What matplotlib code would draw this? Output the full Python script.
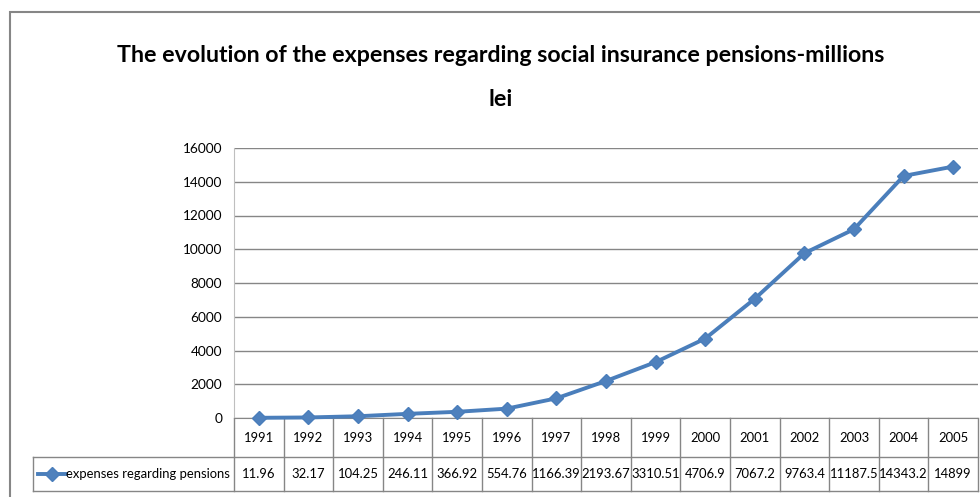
import matplotlib
matplotlib.use('Agg')
import matplotlib.pyplot as plt
from matplotlib.patches import Rectangle
from matplotlib.transforms import blended_transform_factory

plt.rcParams['font.family'] = ['Lato', 'DejaVu Sans']

years = ['1991', '1992', '1993', '1994', '1995', '1996', '1997', '1998',
         '1999', '2000', '2001', '2002', '2003', '2004', '2005']
expenses = [11.96, 32.17, 104.25, 246.11, 366.92, 554.76, 1166.39, 2193.67,
            3310.51, 4706.9, 7067.2, 9763.4, 11187.5, 14343.2, 14899]
series_name = 'expenses regarding pensions'
y_ticks = list(range(0, 16001, 2000))
title_lines = ['The evolution of the expenses regarding social insurance pensions-millions', 'lei']

W, H = 980, 497
def fx(px):
    return px / W
def fy(py):
    return 1 - py / H

line_col = '#4A7EBB'
grid_col = '#868686'

fig = plt.figure(figsize=(W / 100, H / 100), dpi=100)

# outer chart frame (cut off on the right and bottom in the original)
fig.add_artist(Rectangle((fx(10), -0.2), 1.2, fy(12) + 0.2, transform=fig.transFigure,
                         fill=False, edgecolor=grid_col, lw=1.5))

fig.text(fx(501), fy(55), title_lines[0], ha='center', va='center', fontsize=16.7, fontweight='bold')
fig.text(fx(501), fy(100), title_lines[1], ha='center', va='center', fontsize=16.7, fontweight='bold')

left, right, top, bottom = 234, 978, 148, 418
ax = fig.add_axes([fx(left), fy(bottom), (right - left) / W, (bottom - top) / H])

n = len(years)
ax.plot(range(n), expenses, color=line_col, lw=2.8, marker='D', ms=7.5,
        mfc='#4F81BD', mec=line_col, clip_on=False, zorder=3)

ax.set_xlim(-0.5, n - 0.5)
ax.set_ylim(y_ticks[0], y_ticks[-1])
ax.set_yticks(y_ticks)
ax.set_xticks([])
ax.yaxis.grid(True, color=grid_col, lw=1)
ax.set_axisbelow(True)
ax.tick_params(axis='y', length=0, pad=8.5, labelsize=9.8)
for s in ['top', 'right']:
    ax.spines[s].set_visible(False)
ax.spines['left'].set_color('#BFBFBF')
ax.spines['bottom'].set_color(grid_col)

# data table under the plot
ph = bottom - top
r0 = 0
r1 = -(457 - bottom) / ph
r2 = -(491 - bottom) / ph
leg_left = (33 - left) / (right - left)
kw = dict(color=grid_col, lw=1, transform=ax.transAxes, clip_on=False)
for k in range(n + 1):
    ax.plot([k / n, k / n], [r0, r2], **kw)
ax.plot([leg_left, leg_left], [r1, r2], **kw)
ax.plot([leg_left, 1], [r1, r1], **kw)
ax.plot([leg_left, 1], [r2, r2], **kw)

trans = blended_transform_factory(ax.transData, ax.transAxes)
for i in range(n):
    ax.text(i, (r0 + r1) / 2, years[i], transform=trans, ha='center', va='center', fontsize=9.4)
    ax.text(i, (r1 + r2) / 2, f'{expenses[i]:g}', transform=trans, ha='center', va='center', fontsize=9.4)

# legend key inside the table
ym = (r1 + r2) / 2
lx0 = (38 - left) / (right - left)
lx1 = (66 - left) / (right - left)
ax.plot([lx0, lx1], [ym, ym], color=line_col, lw=2.8, transform=ax.transAxes, clip_on=False)
ax.plot([(lx0 + lx1) / 2], [ym], marker='D', ms=7.5, color='#4F81BD', mec=line_col,
        transform=ax.transAxes, clip_on=False)
ax.text((230 - left) / (right - left), ym, series_name, transform=ax.transAxes,
        ha='right', va='center', fontsize=9.4)

fig.savefig('out.png', dpi=100)
